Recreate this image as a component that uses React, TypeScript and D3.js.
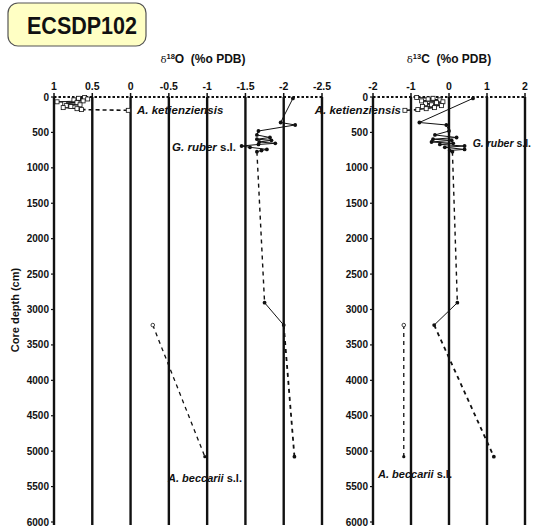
import React from 'react'
import * as d3 from 'd3'

// depths (cm) and isotope values
const ketDepth = [8, 18, 28, 40, 55, 68, 80, 95, 110, 122, 135, 150, 165, 178]
const ketO = [0.6, 0.68, 0.56, 0.74, 0.62, 0.96, 0.7, 0.86, 0.66, 0.84, 0.78, 0.88, 0.7, 0.64]
const ketC = [-0.85, -0.42, -0.55, -0.24, -0.72, -0.16, -0.33, -0.62, -0.46, -0.2, -0.7, -0.38, -0.6, -0.82]
const ketLastDepth = 188
const ketLastO = 0.03
const ketLastC = -1.16

const ruberDepth = [20, 360, 395, 480, 536, 572, 596, 612, 635, 654, 670, 692, 710, 740, 755, 772, 2904, 3220, 5078]
const ruberO = [-2.12, -1.96, -2.15, -1.67, -1.65, -1.82, -1.65, -1.84, -1.68, -1.89, -1.67, -1.45, -1.56, -1.78, -1.71, -1.65, -1.75, -2.0, -2.14]
const ruberC = [0.63, -0.78, -0.07, 0.0, -0.37, 0.2, -0.42, 0.07, -0.46, 0.11, -0.24, 0.41, -0.11, 0.41, 0.02, 0.09, 0.22, -0.39, 1.18]

const beccDepth = [3220, 5078]
const beccO = [-0.29, -0.97]
const beccC = [-1.19, -1.19]

const depthTicks = [0, 500, 1000, 1500, 2000, 2500, 3000, 3500, 4000, 4500, 5000, 5500, 6000]
const oTicks = [1, 0.5, 0, -0.5, -1, -1.5, -2, -2.5]
const cTicks = [-2, -1, 0, 1, 2]

const FONT = "'Liberation Sans',Arial,sans-serif"

const y = d3.scaleLinear().domain([0, 6000]).range([97, 522])
const yBottom = 525

type Pt = [number, number]

function zip(vals: number[], depths: number[]): Pt[] {
  return vals.map((v, i) => [v, depths[i]])
}

type Label = { x: number; y: number; anchor: string; size: number }

function Panel({
  x, ticks, title, iso, titleX,
  ket, ketLast, ruber, becc,
  labels,
}: {
  x: d3.ScaleLinear<number, number>
  ticks: number[]
  title: string
  iso: string
  titleX: number
  ket: Pt[]
  ketLast: Pt
  ruber: Pt[]
  becc: Pt[]
  labels: Label[]
}) {
  const line = d3.line<Pt>().x((d) => x(d[0])).y((d) => y(d[1]))
  const [x0, x1] = x.range()
  // ruber: solid where samples are close, dashed over big gaps
  const ruberSegs: { pts: Pt[]; gap: boolean }[] = []
  for (let i = 1; i < ruber.length; i++) {
    const gap = ruber[i][1] - ruber[i - 1][1] > 1000
    const last = ruberSegs[ruberSegs.length - 1]
    if (last && last.gap === gap && !gap) last.pts.push(ruber[i])
    else ruberSegs.push({ pts: [ruber[i - 1], ruber[i]], gap })
  }
  const ketEnd = ket[ket.length - 1]
  return (
    <g>
      {/* title */}
      <text x={titleX} y={63} textAnchor="middle" fontFamily={FONT} fontSize={12} fill="#111">
        <tspan fontFamily="'DejaVu Serif',serif" fontSize={10}>δ</tspan>
        <tspan fontSize={7.5} fontWeight="bold" dy={-4.5}>{iso}</tspan>
        <tspan dy={4.5} fontWeight="bold">{title}</tspan>
      </text>
      {/* vertical grid lines */}
      {ticks.slice(1).map((t) => (
        <line key={t} x1={x(t)} x2={x(t)} y1={y(0)} y2={yBottom} stroke="#111" strokeWidth={2.4} />
      ))}
      {/* top axis */}
      <line x1={x0} x2={x1} y1={y(0)} y2={y(0)} stroke="#111" strokeWidth={2} strokeDasharray="2.5,2" />
      {ticks.map((t) => (
        <g key={t}>
          <line x1={x(t)} x2={x(t)} y1={y(0) - 4} y2={y(0)} stroke="#111" strokeWidth={1.5} />
          <text x={x(t)} y={y(0) - 7} textAnchor="middle" fontFamily={FONT} fontWeight="bold" fontSize={10.5} fill="#111">
            {t}
          </text>
        </g>
      ))}
      {/* depth axis */}
      <line x1={x0} x2={x0} y1={y(0)} y2={yBottom} stroke="#111" strokeWidth={2.4} />
      {depthTicks.map((t) => (
        <g key={t}>
          <line x1={x0 - 3} x2={x0} y1={y(t)} y2={y(t)} stroke="#111" strokeWidth={1.2} />
          <text x={x0 - 5} y={y(t) + 3.5} textAnchor="end" fontFamily={FONT} fontWeight="bold" fontSize={10} fill="#111">
            {t}
          </text>
        </g>
      ))}
      {/* A. ketienziensis */}
      <path d={line(ket) || ''} fill="none" stroke="#111" strokeWidth={1} />
      <path d={line([ketEnd, ketLast]) || ''} fill="none" stroke="#111" strokeWidth={1.6} strokeDasharray="4,3" />
      {[...ket, ketLast].map((d, i) => (
        <rect key={i} x={x(d[0]) - 2} y={y(d[1]) - 2} width={4} height={4} fill="#fff" stroke="#111" strokeWidth={0.8} />
      ))}
      {/* G. ruber */}
      {ruberSegs.map((s, i) => (
        <path
          key={i}
          d={line(s.pts) || ''}
          fill="none"
          stroke="#111"
          strokeWidth={s.gap ? (s.pts[0][1] > 3000 ? 1.8 : 1.4) : 1}
          strokeDasharray={s.gap ? '4,4' : undefined}
        />
      ))}
      {ruber.map((d, i) => (
        <circle key={i} cx={x(d[0])} cy={y(d[1])} r={1.9} fill="#111" />
      ))}
      {/* A. beccarii */}
      <path d={line(becc) || ''} fill="none" stroke="#111" strokeWidth={1.3} strokeDasharray="4,4" />
      <circle cx={x(becc[0][0])} cy={y(becc[0][1])} r={1.8} fill="#fff" stroke="#111" strokeWidth={0.8} />
      <circle cx={x(becc[1][0])} cy={y(becc[1][1])} r={1.6} fill="#111" />
      {/* labels */}
      {labels.map((l, i) => (
        <text key={i} x={l.x} y={l.y} textAnchor={l.anchor} fontFamily={FONT} fontWeight="bold" fontSize={l.size} fill="#111">
          <tspan fontStyle="italic">{['A. ketienziensis', 'G. ruber', 'A. beccarii'][i]}</tspan>
          {i === 0 ? '' : ' s.l.'}
        </text>
      ))}
    </g>
  )
}

export default function App() {
  const xO = d3.scaleLinear().domain([1, -2.5]).range([54, 322])
  const xC = d3.scaleLinear().domain([-2, 2]).range([373, 525])
  return (
    <svg width={533} height={531} style={{ position: 'absolute', left: 0, top: 0, background: '#fff' }}>
      <rect x={8} y={3} width={138} height={43} rx={10} fill="#FFFFC4" stroke="#555" strokeWidth={1.2} />
      <text
        x={82}
        y={34}
        textAnchor="middle"
        fontFamily={FONT}
        fontWeight="bold"
        fontSize={24}
        textLength={110}
        lengthAdjust="spacingAndGlyphs"
        fill="#111"
      >
        ECSDP102
      </text>
      <text
        transform="translate(19,310) rotate(-90)"
        textAnchor="middle"
        fontFamily={FONT}
        fontWeight="bold"
        fontSize={11}
        fill="#111"
      >
        Core depth (cm)
      </text>
      <Panel
        x={xO}
        ticks={oTicks}
        iso="18"
        title={'O\u00a0\u00a0(%o PDB)'}
        titleX={203}
        ket={zip(ketO, ketDepth)}
        ketLast={[ketLastO, ketLastDepth]}
        ruber={zip(ruberO, ruberDepth)}
        becc={zip(beccO, beccDepth)}
        labels={[
          { x: 137, y: 114, anchor: 'start', size: 11.5 },
          { x: 236, y: 151, anchor: 'end', size: 11.5 },
          { x: 168, y: 482, anchor: 'start', size: 11 },
        ]}
      />
      <Panel
        x={xC}
        ticks={cTicks}
        iso="13"
        title={'C\u00a0\u00a0(%o PDB)'}
        titleX={449}
        ket={zip(ketC, ketDepth)}
        ketLast={[ketLastC, ketLastDepth]}
        ruber={zip(ruberC, ruberDepth)}
        becc={zip(beccC, beccDepth)}
        labels={[
          { x: 401, y: 114, anchor: 'end', size: 11.5 },
          { x: 531, y: 147, anchor: 'end', size: 10.5 },
          { x: 378, y: 478, anchor: 'start', size: 11 },
        ]}
      />
    </svg>
  )
}
